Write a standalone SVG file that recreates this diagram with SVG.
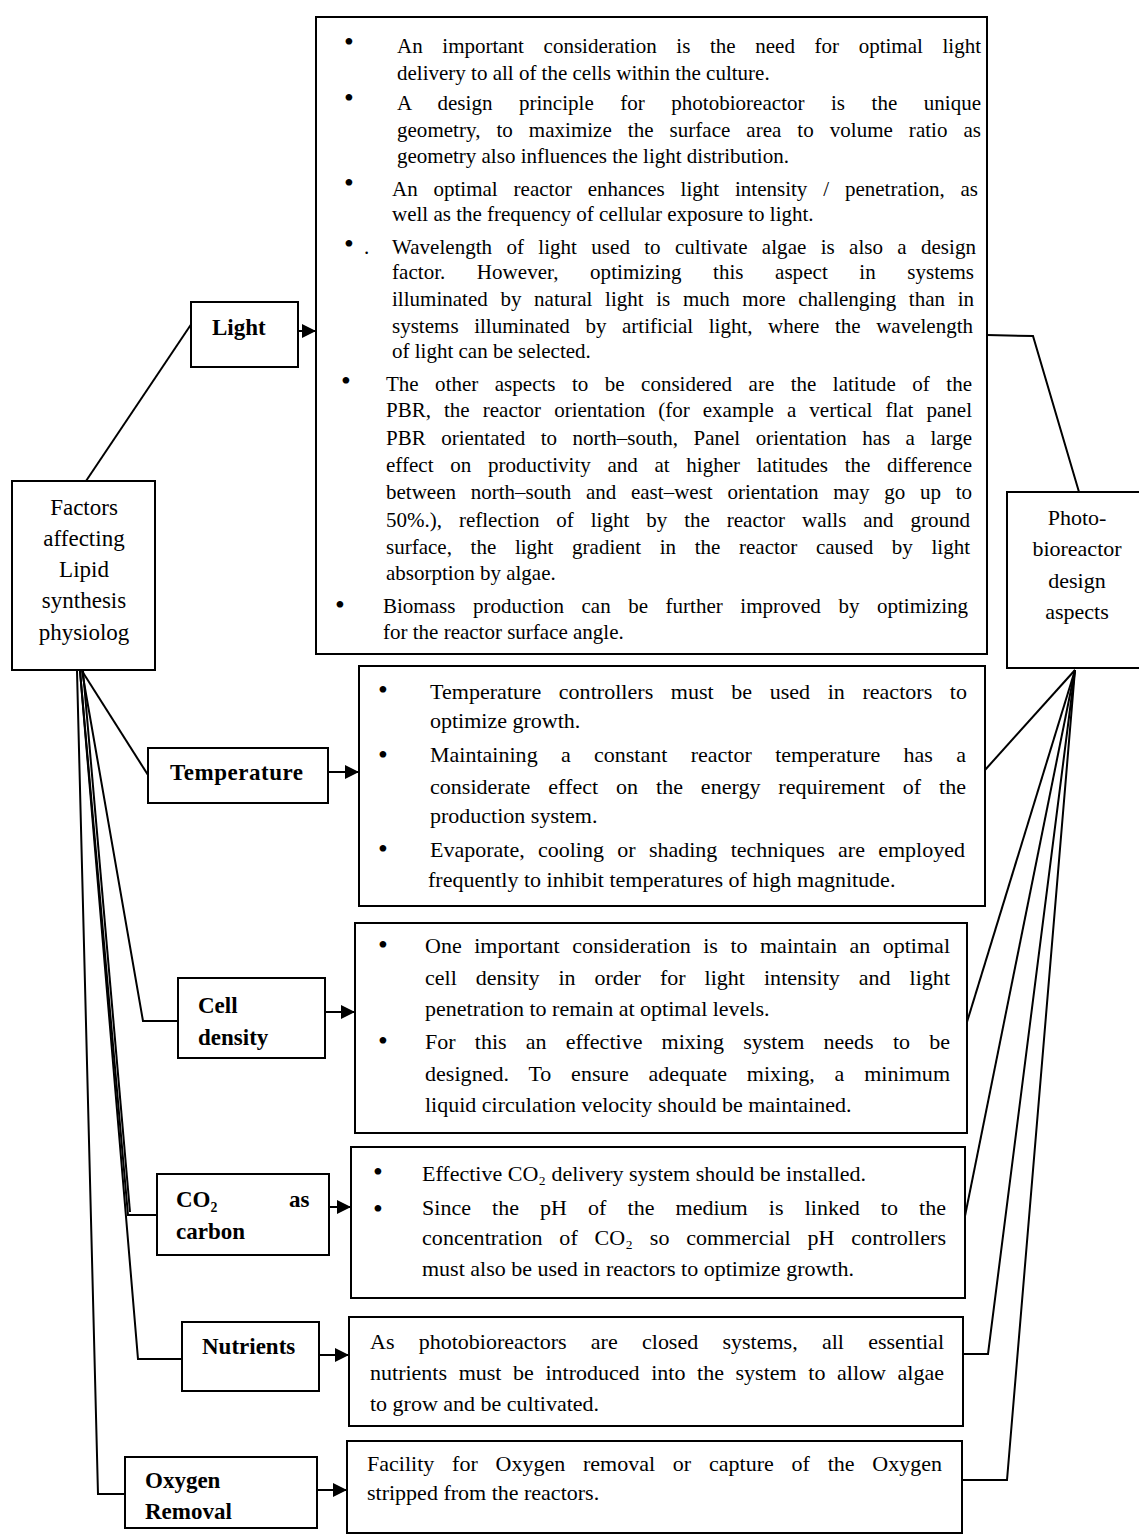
<svg xmlns="http://www.w3.org/2000/svg" width="1139" height="1535" viewBox="0 0 1139 1535">
<style>
.box{fill:#fff;stroke:#000;stroke-width:2}
.ln{fill:none;stroke:#000;stroke-width:2}
.t{font-family:"Liberation Serif","Times New Roman",serif;font-size:21px;fill:#000}
.t2{font-family:"Liberation Serif","Times New Roman",serif;font-size:22px;fill:#000}
.hd{font-family:"Liberation Serif","Times New Roman",serif;font-size:23px;fill:#000;text-anchor:middle}
.hd2{font-family:"Liberation Serif","Times New Roman",serif;font-size:22px;fill:#000;text-anchor:middle}
.lb{font-family:"Liberation Serif","Times New Roman",serif;font-size:23px;font-weight:bold;fill:#000}
.bu{font-family:"Liberation Serif","Times New Roman",serif;font-size:28px;fill:#000;text-anchor:middle}
</style>
<defs>
<marker id="arr" viewBox="0 0 10 10" refX="10" refY="5" markerWidth="7" markerHeight="7" markerUnits="strokeWidth" orient="auto">
<path d="M0,0 L10,5 L0,10 Z" fill="#000"/>
</marker>
</defs>

<g id="connectors">
<line class="ln" x1="86" y1="481" x2="192" y2="323"/>
<line class="ln" x1="82" y1="671" x2="148" y2="775"/>
<polyline class="ln" points="82,671 143,1021 178,1021"/>
<polyline class="ln" points="80,671 128,1215 157,1215"/>
<line class="ln" x1="83" y1="671" x2="130" y2="1212"/>
<polyline class="ln" points="80,671 138,1359 182,1359"/>
<polyline class="ln" points="77,671 98,1494 125,1494"/>
<line class="ln" x1="298" y1="331" x2="316" y2="331" marker-end="url(#arr)"/>
<line class="ln" x1="328" y1="772" x2="359" y2="772" marker-end="url(#arr)"/>
<line class="ln" x1="325" y1="1012" x2="355" y2="1012" marker-end="url(#arr)"/>
<line class="ln" x1="329" y1="1207" x2="351" y2="1207" marker-end="url(#arr)"/>
<line class="ln" x1="319" y1="1355" x2="349" y2="1355" marker-end="url(#arr)"/>
<line class="ln" x1="317" y1="1490" x2="347" y2="1490" marker-end="url(#arr)"/>
<polyline class="ln" points="987,335 1033,336 1079,492"/>
<line class="ln" x1="1075" y1="670" x2="985" y2="770"/>
<line class="ln" x1="1075" y1="670" x2="967" y2="1022"/>
<line class="ln" x1="1075" y1="670" x2="965" y2="1216"/>
<polyline class="ln" points="1075,670 988,1354 963,1354"/>
<polyline class="ln" points="1075,670 1007,1480 962,1480"/>
</g>

<g id="factors">
<rect class="box" x="12" y="481" width="143" height="189"/>
<text class="hd" x="84" y="515">Factors</text>
<text class="hd" x="84" y="546">affecting</text>
<text class="hd" x="84" y="577">Lipid</text>
<text class="hd" x="84" y="608">synthesis</text>
<text class="hd" x="84" y="640">physiolog</text>
</g>

<g id="pbr">
<rect class="box" x="1007" y="492" width="140" height="176"/>
<text class="hd2" x="1077" y="525">Photo-</text>
<text class="hd2" x="1077" y="556">bioreactor</text>
<text class="hd2" x="1077" y="588">design</text>
<text class="hd2" x="1077" y="619">aspects</text>
</g>

<g id="light">
<rect class="box" x="191" y="302" width="107" height="65"/>
<text class="lb" x="212" y="335">Light</text>
</g>

<g id="temperature">
<rect class="box" x="148" y="748" width="180" height="55"/>
<text class="lb" x="170" y="780" textLength="133" lengthAdjust="spacing">Temperature</text>
</g>

<g id="celldensity">
<rect class="box" x="178" y="978" width="147" height="80"/>
<text class="lb" x="198" y="1013">Cell</text>
<text class="lb" x="198" y="1045">density</text>
</g>

<g id="co2">
<rect class="box" x="157" y="1174" width="172" height="81"/>
<text class="lb" x="176" y="1207">CO₂</text>
<text class="lb" x="289" y="1207">as</text>
<text class="lb" x="176" y="1239">carbon</text>
</g>

<g id="nutrients">
<rect class="box" x="182" y="1322" width="137" height="69"/>
<text class="lb" x="202" y="1354">Nutrients</text>
</g>

<g id="oxygen">
<rect class="box" x="125" y="1457" width="192" height="71"/>
<text class="lb" x="145" y="1488">Oxygen</text>
<text class="lb" x="145" y="1519">Removal</text>
</g>

<g id="light-text">
<rect class="box" x="316" y="17" width="671" height="637"/>
<text class="bu" x="349" y="51">•</text>
<text class="bu" x="349" y="107">•</text>
<text class="bu" x="349" y="192">•</text>
<text class="bu" x="349" y="253">•</text>
<text class="t" x="364" y="254">.</text>
<text class="bu" x="346" y="390">•</text>
<text class="bu" x="340" y="614">•</text>
<text class="t" x="397" y="53" word-spacing="14.4" textLength="584" lengthAdjust="spacing">An important consideration is the need for optimal light</text>
<text class="t" x="397" y="80">delivery to all of the cells within the culture.</text>
<text class="t" x="397" y="110" word-spacing="21.2" textLength="584" lengthAdjust="spacing">A design principle for photobioreactor is the unique</text>
<text class="t" x="397" y="137" word-spacing="10.7" textLength="584" lengthAdjust="spacing">geometry, to maximize the surface area to volume ratio as</text>
<text class="t" x="397" y="163">geometry also influences the light distribution.</text>
<text class="t" x="392" y="196" word-spacing="10.6" textLength="586" lengthAdjust="spacing">An optimal reactor enhances light intensity / penetration, as</text>
<text class="t" x="392" y="221">well as the frequency of cellular exposure to light.</text>
<text class="t" x="392" y="254" word-spacing="9" textLength="584" lengthAdjust="spacing">Wavelength of light used to cultivate algae is also a design</text>
<text class="t" x="392" y="279" word-spacing="26.2" textLength="582" lengthAdjust="spacing">factor. However, optimizing this aspect in systems</text>
<text class="t" x="392" y="306" word-spacing="7.4" textLength="582" lengthAdjust="spacing">illuminated by natural light is much more challenging than in</text>
<text class="t" x="392" y="333" word-spacing="10.3" textLength="581" lengthAdjust="spacing">systems illuminated by artificial light, where the wavelength</text>
<text class="t" x="392" y="358">of light can be selected.</text>
<text class="t" x="386" y="391" word-spacing="11.2" textLength="586" lengthAdjust="spacing">The other aspects to be considered are the latitude of the</text>
<text class="t" x="386" y="417" word-spacing="7.8" textLength="586" lengthAdjust="spacing">PBR, the reactor orientation (for example a vertical flat panel</text>
<text class="t" x="386" y="445" word-spacing="10.2" textLength="586" lengthAdjust="spacing">PBR orientated to north–south, Panel orientation has a large</text>
<text class="t" x="386" y="472" word-spacing="11.4" textLength="586" lengthAdjust="spacing">effect on productivity and at higher latitudes the difference</text>
<text class="t" x="386" y="499" word-spacing="9.5" textLength="586" lengthAdjust="spacing">between north–south and east–west orientation may go up to</text>
<text class="t" x="386" y="527" word-spacing="11.7" textLength="584" lengthAdjust="spacing">50%.), reflection of light by the reactor walls and ground</text>
<text class="t" x="386" y="554" word-spacing="13.4" textLength="584" lengthAdjust="spacing">surface, the light gradient in the reactor caused by light</text>
<text class="t" x="386" y="580">absorption by algae.</text>
<text class="t" x="383" y="613" word-spacing="12.3" textLength="585" lengthAdjust="spacing">Biomass production can be further improved by optimizing</text>
<text class="t" x="383" y="639">for the reactor surface angle.</text>
</g>

<g id="temperature-text">
<rect class="box" x="359" y="666" width="626" height="240"/>
<text class="bu" x="383" y="699">•</text>
<text class="bu" x="383" y="764">•</text>
<text class="bu" x="383" y="858">•</text>
<text class="t2" x="430" y="699" word-spacing="12" textLength="537" lengthAdjust="spacing">Temperature controllers must be used in reactors to</text>
<text class="t2" x="430" y="728">optimize growth.</text>
<text class="t2" x="430" y="762" word-spacing="17.8" textLength="536" lengthAdjust="spacing">Maintaining a constant reactor temperature has a</text>
<text class="t2" x="430" y="794" word-spacing="12.4" textLength="536" lengthAdjust="spacing">considerate effect on the energy requirement of the</text>
<text class="t2" x="430" y="823">production system.</text>
<text class="t2" x="430" y="857" word-spacing="7.8" textLength="535" lengthAdjust="spacing">Evaporate, cooling or shading techniques are employed</text>
<text class="t2" x="428" y="887">frequently to inhibit temperatures of high magnitude.</text>
</g>

<g id="celldensity-text">
<rect class="box" x="355" y="923" width="612" height="210"/>
<text class="bu" x="383" y="954">•</text>
<text class="bu" x="383" y="1050">•</text>
<text class="t2" x="425" y="953" word-spacing="7" textLength="525" lengthAdjust="spacing">One important consideration is to maintain an optimal</text>
<text class="t2" x="425" y="985" word-spacing="13.5" textLength="525" lengthAdjust="spacing">cell density in order for light intensity and light</text>
<text class="t2" x="425" y="1016">penetration to remain at optimal levels.</text>
<text class="t2" x="425" y="1049" word-spacing="13.7" textLength="525" lengthAdjust="spacing">For this an effective mixing system needs to be</text>
<text class="t2" x="425" y="1081" word-spacing="14.2" textLength="525" lengthAdjust="spacing">designed. To ensure adequate mixing, a minimum</text>
<text class="t2" x="425" y="1112">liquid circulation velocity should be maintained.</text>
</g>

<g id="co2-text">
<rect class="box" x="351" y="1147" width="614" height="151"/>
<text class="bu" x="378" y="1181">•</text>
<text class="bu" x="378" y="1218">•</text>
<text class="t2" x="422" y="1181">Effective CO₂ delivery system should be installed.</text>
<text class="t2" x="422" y="1215" word-spacing="15.6" textLength="524" lengthAdjust="spacing">Since the pH of the medium is linked to the</text>
<text class="t2" x="422" y="1245" word-spacing="11.2" textLength="524" lengthAdjust="spacing">concentration of CO₂ so commercial pH controllers</text>
<text class="t2" x="422" y="1276">must also be used in reactors to optimize growth.</text>
</g>

<g id="nutrients-text">
<rect class="box" x="349" y="1317" width="614" height="109"/>
<text class="t2" x="370" y="1349" word-spacing="18.8" textLength="574" lengthAdjust="spacing">As photobioreactors are closed systems, all essential</text>
<text class="t2" x="370" y="1380" word-spacing="6.1" textLength="574" lengthAdjust="spacing">nutrients must be introduced into the system to allow algae</text>
<text class="t2" x="370" y="1411">to grow and be cultivated.</text>
</g>

<g id="oxygen-text">
<rect class="box" x="347" y="1441" width="615" height="92"/>
<text class="t2" x="367" y="1471" word-spacing="12.3" textLength="575" lengthAdjust="spacing">Facility for Oxygen removal or capture of the Oxygen</text>
<text class="t2" x="367" y="1500">stripped from the reactors.</text>
</g>
</svg>
